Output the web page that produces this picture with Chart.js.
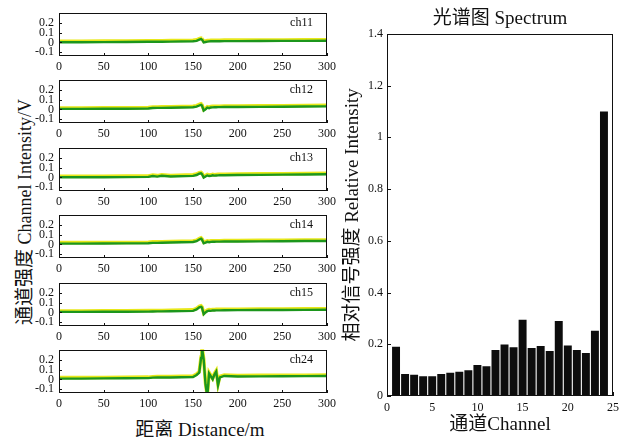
<!DOCTYPE html>
<html>
<head>
<meta charset="utf-8">
<script src="https://cdn.jsdelivr.net/npm/chart.js@4.4.1/dist/chart.umd.min.js"></script>
<style>
body { margin: 0; background: #fff; width: 624px; height: 437px; overflow: hidden; position: relative;
       font-family: 'Liberation Serif', 'Noto Sans CJK SC', serif; color: #111; }
.panel { position: absolute; left: 0; }
#spec { position: absolute; left: 340px; top: 0; }
#ylab { position: absolute; left: 22px; top: 212px; transform: translate(-50%, -50%) rotate(-90deg);
        white-space: nowrap; font-size: 18px; }
#xlab { position: absolute; left: 200px; top: 427px; transform: translate(-50%, -50%);
        white-space: nowrap; font-size: 19px; }
.cn { font-family: 'Noto Sans CJK SC', sans-serif; font-size: 19px; }
</style>
</head>
<body>
<div id="ylab"><span class="cn">通道强度</span> Channel Intensity/V</div>
<div id="xlab"><span class="cn">距离</span> Distance/m</div>
<canvas id="spec" width="284" height="437"></canvas>
<script>
const FONT = "'Liberation Serif', 'Noto Sans CJK SC', serif";
const INK = '#111';

// left panels: distance (m) and channel intensity (V)
const DIST = [0, 25, 50, 75, 100, 105, 110, 115, 125, 150, 154, 157, 159, 160, 162, 164, 166, 168, 170, 172, 174, 176, 178, 180, 185, 200, 225, 250, 275, 300];
const CH11 = [0.002, 0.002, 0.003, 0.004, 0.006, 0.006, 0.007, 0.007, 0.008, 0.011, 0.016, 0.028, 0.034, 0.030, 0.000, 0.004, 0.008, 0.010, 0.011, 0.011, 0.012, 0.012, 0.012, 0.012, 0.013, 0.013, 0.014, 0.015, 0.016, 0.017];
const CH12 = [0.005, 0.005, 0.006, 0.007, 0.009, 0.014, 0.015, 0.016, 0.017, 0.022, 0.028, 0.040, 0.047, 0.040, -0.012, 0.000, 0.018, 0.012, 0.020, 0.021, 0.022, 0.022, 0.023, 0.023, 0.024, 0.025, 0.026, 0.027, 0.029, 0.031];
const CH13 = [0.001, 0.001, 0.002, 0.003, 0.005, 0.014, 0.008, 0.016, 0.009, 0.016, 0.024, 0.038, 0.042, 0.035, -0.002, 0.010, 0.020, 0.014, 0.016, 0.022, 0.018, 0.020, 0.021, 0.022, 0.022, 0.024, 0.026, 0.028, 0.030, 0.032];
const CH14 = [0.008, 0.008, 0.009, 0.010, 0.012, 0.016, 0.016, 0.017, 0.019, 0.025, 0.033, 0.050, 0.058, 0.050, 0.012, 0.018, 0.026, 0.022, 0.026, 0.027, 0.027, 0.028, 0.028, 0.028, 0.029, 0.030, 0.031, 0.032, 0.034, 0.035];
const CH15 = [0.005, 0.005, 0.006, 0.007, 0.008, 0.009, 0.010, 0.010, 0.011, 0.016, 0.030, 0.052, 0.058, 0.050, -0.018, 0.000, 0.012, 0.018, 0.016, 0.020, 0.020, 0.021, 0.021, 0.021, 0.022, 0.023, 0.024, 0.025, 0.026, 0.027];
const CH24 = [0.008, 0.008, 0.010, 0.011, 0.013, 0.018, 0.019, 0.019, 0.020, 0.025, 0.045, 0.070, 0.220, 0.330, 0.200, -0.050, -0.180, 0.060, 0.030, 0.000, 0.050, 0.080, -0.060, 0.020, 0.035, 0.030, 0.031, 0.032, 0.033, 0.035];
const PANEL_NAMES = ['ch11', 'ch12', 'ch13', 'ch14', 'ch15', 'ch24'];
const PANEL_VALUES = [CH11, CH12, CH13, CH14, CH15, CH24];
const PANEL_X_TICKS = [0, 50, 100, 150, 200, 250, 300];
const PANEL_Y_TICKS = [-0.1, 0, 0.1, 0.2];
const PANEL_Y_LABELS = ['-0.1', '0', '0.1', '0.2'];

// right: spectrum
const CHANNELS = [1, 2, 3, 4, 5, 6, 7, 8, 9, 10, 11, 12, 13, 14, 15, 16, 17, 18, 19, 20, 21, 22, 23, 24];
const INTENSITY = [0.19, 0.085, 0.082, 0.076, 0.076, 0.085, 0.09, 0.094, 0.1, 0.12, 0.115, 0.178, 0.199, 0.188, 0.295, 0.186, 0.193, 0.174, 0.29, 0.195, 0.178, 0.166, 0.252, 1.1];
const BAR_X_TICKS = [0, 5, 10, 15, 20, 25];
const BAR_Y_TICKS = [0, 0.2, 0.4, 0.6, 0.8, 1, 1.2, 1.4];
const BAR_Y_LABELS = ['0', '0.2', '0.4', '0.6', '0.8', '1', '1.2', '1.4'];

const PANEL_TOP = 13;
const PANEL_STEP = 67.4;
const PANEL_PAD = 12;

// box round the plot, short ticks pointing inward, optional channel name
const framePlugin = {
    id: 'frame',
    beforeDatasetDraw(chart, args) {
        if (args.meta.type === 'line' && args.index === 1) {
            chart.ctx.save();
            chart.ctx.translate(0, -1);
        }
    },
    afterDatasetDraw(chart, args) {
        if (args.meta.type === 'line' && args.index === 1) chart.ctx.restore();
    },
    afterDraw(chart, args, opts) {
        const { ctx, chartArea: a, scales } = chart;
        ctx.save();
        ctx.strokeStyle = INK;
        ctx.lineWidth = 1;
        ctx.strokeRect(Math.round(a.left) + 0.5, Math.round(a.top) + 0.5, Math.round(a.width) - 1, Math.round(a.height) - 1);
        const len = opts.tick || 3;
        ctx.beginPath();
        scales.x.ticks.forEach(t => {
            const px = Math.round(scales.x.getPixelForValue(t.value)) + 0.5;
            ctx.moveTo(px, a.bottom);
            ctx.lineTo(px, a.bottom - len);
        });
        scales.y.ticks.forEach(t => {
            const py = Math.round(scales.y.getPixelForValue(t.value)) + 0.5;
            ctx.moveTo(a.left, py);
            ctx.lineTo(a.left + len, py);
        });
        ctx.stroke();
        if (opts.label) {
            ctx.fillStyle = INK;
            ctx.font = `12px ${FONT}`;
            ctx.textAlign = 'right';
            ctx.textBaseline = 'middle';
            ctx.fillText(opts.label, a.right - 14, a.top + 10);
        }
        ctx.restore();
    }
};

const noGrid = { display: false, drawTicks: false, drawOnChartArea: false };

const makePanel = (i) => {
    const cv = document.createElement('canvas');
    cv.width = 340;
    cv.height = PANEL_PAD + 43 + 18;
    cv.className = 'panel';
    cv.style.top = (PANEL_TOP + i * PANEL_STEP - PANEL_PAD) + 'px';
    document.body.appendChild(cv);

    const pts = DIST.map((d, k) => ({ x: d, y: PANEL_VALUES[i][k] }));

    new Chart(cv, {
        type: 'line',
        data: {
            datasets: [
                { data: pts, borderColor: '#1c961c', borderWidth: 2.4, pointRadius: 0, tension: 0 },
                { data: pts, borderColor: '#e8e81a', borderWidth: 3.5, pointRadius: 0, tension: 0 }
            ]
        },
        options: {
            responsive: false,
            animation: false,
            layout: { padding: { top: PANEL_PAD, right: 13, left: 0, bottom: 0 } },
            plugins: {
                legend: { display: false },
                tooltip: { enabled: false },
                frame: { label: PANEL_NAMES[i], tick: 3 }
            },
            scales: {
                x: {
                    type: 'linear', min: 0, max: 300,
                    afterBuildTicks: s => { s.ticks = PANEL_X_TICKS.map(v => ({ value: v })); },
                    ticks: { font: { family: FONT, size: 12 }, color: INK, padding: 4, maxRotation: 0, autoSkip: false },
                    grid: noGrid,
                    border: { display: false },
                    afterFit: s => { s.height = 18; }
                },
                y: {
                    min: -0.14, max: 0.3,
                    afterBuildTicks: s => { s.ticks = PANEL_Y_TICKS.map(v => ({ value: v })); },
                    ticks: {
                        font: { family: FONT, size: 12 }, color: INK, padding: 5, autoSkip: false,
                        callback: (v, idx) => PANEL_Y_LABELS[idx]
                    },
                    grid: noGrid,
                    border: { display: false },
                    afterFit: s => { s.width = 59; }
                }
            }
        },
        plugins: [framePlugin]
    });
};

PANEL_NAMES.forEach((_, i) => makePanel(i));

new Chart(document.getElementById('spec'), {
    type: 'bar',
    data: {
        datasets: [{
            data: CHANNELS.map((c, i) => ({ x: c, y: INTENSITY[i] })),
            backgroundColor: '#0d0d0d',
            borderWidth: 0,
            barPercentage: 0.88,
            categoryPercentage: 1
        }]
    },
    options: {
        responsive: false,
        animation: false,
        layout: { padding: { top: 0, right: 8, left: 0, bottom: 0 } },
        plugins: {
            legend: { display: false },
            tooltip: { enabled: false },
            title: {
                display: true, text: '光谱图 Spectrum', color: INK, fullSize: false,
                font: { family: FONT, size: 19, weight: 'normal' },
                padding: { top: 8, bottom: 3 }
            },
            frame: { tick: 4 }
        },
        scales: {
            x: {
                type: 'linear', min: 0, max: 25, offset: false,
                afterBuildTicks: s => { s.ticks = BAR_X_TICKS.map(v => ({ value: v })); },
                ticks: { font: { family: FONT, size: 12 }, color: INK, padding: 5, maxRotation: 0, autoSkip: false },
                grid: { display: false, drawTicks: false, drawOnChartArea: false, offset: false },
                border: { display: false },
                title: {
                    display: true, text: '通道Channel', color: INK,
                    font: { family: FONT, size: 19 }, padding: { top: 0, bottom: 1 }
                },
                afterFit: s => { s.height = 41; }
            },
            y: {
                min: 0, max: 1.4,
                afterBuildTicks: s => { s.ticks = BAR_Y_TICKS.map(v => ({ value: v })); },
                ticks: {
                    font: { family: FONT, size: 12 }, color: INK, padding: 4, autoSkip: false,
                    callback: (v, idx) => BAR_Y_LABELS[idx]
                },
                grid: noGrid,
                border: { display: false },
                title: {
                    display: true, text: '相对信号强度 Relative Intensity', color: INK,
                    font: { family: FONT, size: 19 }, padding: { top: 2, bottom: 0 }
                },
                afterFit: s => { s.width = 47; }
            }
        }
    },
    plugins: [framePlugin]
});
</script>
</body>
</html>
